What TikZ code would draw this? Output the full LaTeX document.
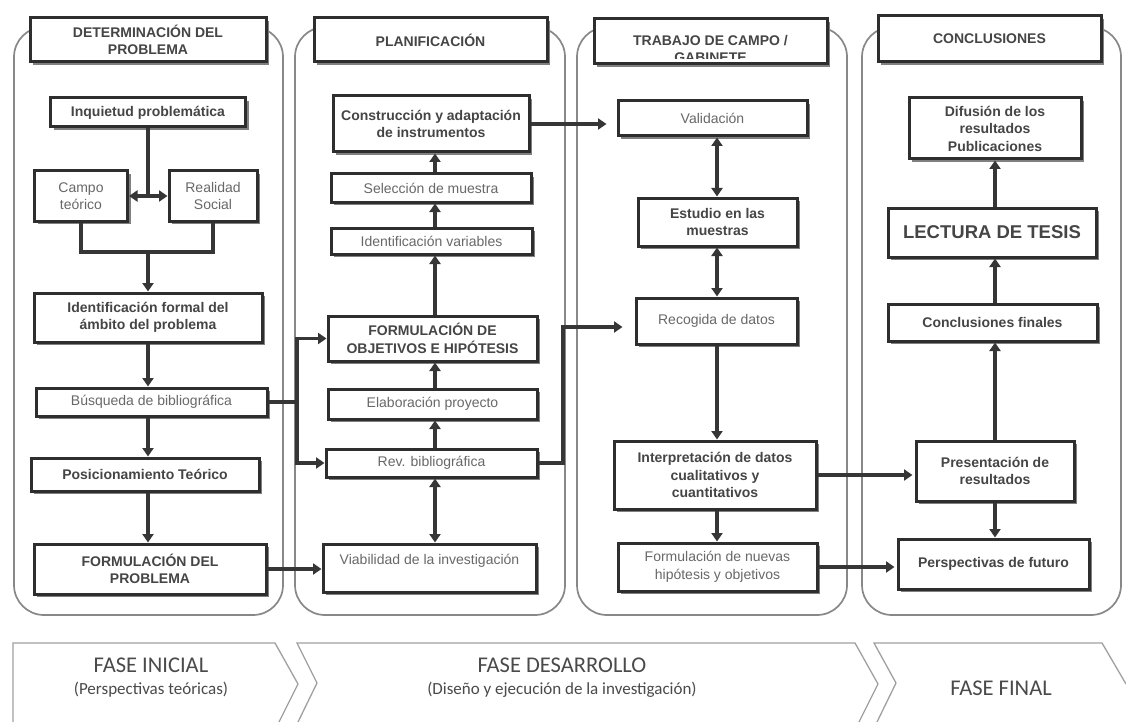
\documentclass[tikz,border=0pt]{standalone}
\usepackage{fontspec}
\setmainfont{Liberation Sans}
\newfontfamily\carlito{Carlito}
\usetikzlibrary{arrows.meta,shadows}
\definecolor{bordc}{HTML}{2e2e2e}
\definecolor{boldtxt}{HTML}{454545}
\definecolor{normtxt}{HTML}{686868}
\definecolor{arrc}{HTML}{363636}
\definecolor{panelc}{HTML}{888888}
\definecolor{bandc}{HTML}{a0a0a0}
\definecolor{bandtxt}{HTML}{4a4a4a}
\begin{document}
\begin{tikzpicture}[x=1pt,y=-1pt,
 bx/.style={draw=bordc, line width=3pt, fill=white, align=center, inner sep=2pt,
   drop shadow={shadow xshift=3.4pt, shadow yshift=-3.4pt, fill=black!50, opacity=1}},
 bb/.style={bx, font=\fontsize{14}{17.5}\selectfont\bfseries, text=boldtxt},
 bn/.style={bx, font=\fontsize{14}{17.5}\selectfont, text=normtxt},
 tipa/.tip={Triangle[width=11pt,length=8.5pt]},
 ar/.style={draw=arrc, line width=3.8pt, -tipa},
 dar/.style={draw=arrc, line width=3.8pt, tipa-tipa},
 ln/.style={draw=arrc, line width=3.8pt},
 panel/.style={draw=panelc, line width=1.7pt, rounded corners=30pt},
 band/.style={draw=bandc, line width=1.3pt},
 bandt/.style={font=\carlito\fontsize{22.5}{26}\selectfont, text=bandtxt},
 bands/.style={font=\carlito\fontsize{17}{20}\selectfont, text=bandtxt},
]
\useasboundingbox[fill=white] (0,0) rectangle (1126,722);

% panels
\draw[panel] (14,27) rectangle (283,615);
\draw[panel] (295,27) rectangle (565,615);
\draw[panel] (577,27) rectangle (847,615);
\draw[panel] (862,27) rectangle (1121,615);

% headers
\node[bb, minimum width=236pt, minimum height=44pt] (h1) at (148,40) {DETERMINACIÓN DEL\\PROBLEMA};
\node[bb, minimum width=233pt, minimum height=44pt] (h2) at (430.5,40) {PLANIFICACIÓN};
\node[bb, minimum width=233pt, minimum height=45pt] (h3) at (710.5,41.5) {};
\begin{scope}
\clip ([xshift=1.5pt,yshift=-1.5pt]h3.north west) rectangle ([xshift=-1.5pt]h3.east |- 0,58.5);
\node[font=\fontsize{14}{17.5}\selectfont\bfseries, text=boldtxt, align=center] (h3t) at (710.5,49) {TRABAJO DE CAMPO /\\GABINETE};
\end{scope}
\node[bb, minimum width=223pt, minimum height=46pt] (h4) at (989.5,39) {CONCLUSIONES};

% column 1
\node[bb, minimum width=195pt, minimum height=29pt] (inq) at (148,112.5) {Inquietud problemática};
\node[bn, minimum width=93pt, minimum height=50pt] (campo) at (81,196) {Campo\\teórico};
\node[bn, minimum width=88pt, minimum height=50pt] (real) at (213,196) {Realidad\\Social};
\node[bb, minimum width=228pt, minimum height=49pt] (ident) at (148,317.5) {Identificación formal del\\ámbito del problema};
\node[bn, minimum width=231pt, minimum height=28pt] (busq) at (151.5,402) {Búsqueda de bibliográfica};
\node[bb, minimum width=228pt, minimum height=33pt] (posic) at (145,474.5) {Posicionamiento Teórico};
\node[bb, minimum width=232pt, minimum height=50pt] (formp) at (150,569) {FORMULACIÓN DEL\\PROBLEMA};

\coordinate (jn) at (148,252);
\draw[ln] (inq.south) -- (inq.south |- campo.east);
\draw[dar] (campo.east) -- (real.west);
\draw[ln] (campo.south) |- (jn) -| (real.south);
\draw[ar] (jn) -- (jn |- ident.north);
\draw[ar] (ident.south) -- (ident.south |- busq.north);
\draw[ar] (ident.south |- busq.south) -- (ident.south |- posic.north);
\draw[ar] (ident.south |- posic.south) -- (ident.south |- formp.north);

% column 2
\node[bb, minimum width=196pt, minimum height=56pt] (constr) at (431,124) {Construcción y adaptación\\de instrumentos};
\node[bn, minimum width=200pt, minimum height=28pt] (selec) at (431,188) {Selección de muestra};
\node[bn, minimum width=201pt, minimum height=26pt] (identv) at (431.5,241) {Identificación variables};
\node[bb, minimum width=209pt, minimum height=45pt] (formo) at (432.5,338.5) {FORMULACIÓN DE\\OBJETIVOS E HIPÓTESIS};
\node[bn, minimum width=209pt, minimum height=30pt] (elab) at (432.5,404) {Elaboración proyecto};
\node[bn, minimum width=211pt, minimum height=28pt] (rev) at (431.5,463) {Rev. bibliográfica};
\node[bn, minimum width=213pt, minimum height=48pt] (viab) at (429.5,568) {Viabilidad de la investigación\\\mbox{}};

\coordinate (ax2) at (435,300);
\draw[ar] (ax2 |- rev.north) -- (ax2 |- elab.south);
\draw[ar] (ax2 |- elab.north) -- (ax2 |- formo.south);
\draw[ar] (ax2 |- formo.north) -- (ax2 |- identv.south);
\draw[ar] (ax2 |- identv.north) -- (ax2 |- selec.south);
\draw[ar] (ax2 |- selec.north) -- (ax2 |- constr.south);
\draw[dar] (ax2 |- rev.south) -- (ax2 |- viab.north);

% column 1 -> 2
\coordinate (v1) at (297,400);
\draw[ln] (busq.east) -- (busq.east -| v1);
\draw[ar] (busq.east -| v1) |- (formo.west);
\draw[ar] (busq.east -| v1) |- (rev.west);
\draw[ar] (formp.east) -- (formp.east -| viab.west);

% column 3
\node[bn, minimum width=189pt, minimum height=35pt] (valid) at (712.5,118.5) {Validación};
\node[bb, minimum width=159pt, minimum height=48pt] (estud) at (717.5,222) {Estudio en las\\muestras};
\node[bn, minimum width=161pt, minimum height=46pt] (recog) at (716.5,321) {Recogida de datos};
\node[bb, minimum width=202pt, minimum height=68pt] (interp) at (715,475) {Interpretación de datos\\cualitativos y\\cuantitativos};
\node[bn, minimum width=199pt, minimum height=48pt] (formn) at (717.5,567) {Formulación de nuevas\\hipótesis y objetivos};

\coordinate (ax3) at (717,300);
\draw[dar] (ax3 |- valid.south) -- (ax3 |- estud.north);
\draw[dar] (ax3 |- estud.south) -- (ax3 |- recog.north);
\draw[ar] (ax3 |- recog.south) -- (ax3 |- interp.north);
\draw[ar] (ax3 |- interp.south) -- (ax3 |- formn.north);

% column 2 -> 3
\coordinate (v2) at (563,400);
\coordinate (rg) at ([yshift=-6pt]recog.west);
\draw[ar, shorten >=12pt] (rev.east) -- (rev.east -| v2) -- (v2 |- rg) -- (rg);
\draw[ar, shorten >=10pt] (constr.east) -- (constr.east -| valid.west);

% column 4
\node[bb, minimum width=172pt, minimum height=61pt] (difus) at (995,128.5) {Difusión de los\\resultados\\Publicaciones};
\node[bb, minimum width=208pt, minimum height=49pt, font=\fontsize{18.5}{22}\selectfont\bfseries] (lect) at (992,232.5) {LECTURA DE TESIS};
\node[bb, minimum width=209pt, minimum height=37pt] (concf) at (992.5,322.5) {Conclusiones finales};
\node[bb, minimum width=158pt, minimum height=60pt] (pres) at (995,471) {Presentación de\\resultados};
\node[bb, minimum width=191pt, minimum height=50pt] (persp) at (993.5,564) {Perspectivas de futuro};

\coordinate (ax4) at (995,300);
\draw[ar] (ax4 |- pres.north) -- (ax4 |- concf.south);
\draw[ar] (ax4 |- concf.north) -- (ax4 |- lect.south);
\draw[ar] (ax4 |- lect.north) -- (ax4 |- difus.south);
\draw[ar] (ax4 |- pres.south) -- (ax4 |- persp.north);

% column 3 -> 4
\draw[ar, shorten >=2pt] (interp.east) -- (interp.east -| pres.west);
\draw[ar, shorten >=2pt] (formn.east) -- (formn.east -| persp.west);

% bottom band
\draw[band] (13,722) -- (13,643) -- (275,643) -- (298,684) -- (279,722);
\draw[band] (298,722) -- (317,683) -- (297,643) -- (855,643) -- (878,684) -- (859,722);
\draw[band] (877,722) -- (896,683) -- (874,643) -- (1102,643) -- (1126,684);
\node[bandt] (f1) at (151,665) {FASE INICIAL};
\node[bands] (f1s) at (151,690) {(Perspectivas teóricas)};
\node[bandt] (f2) at (562,665) {FASE DESARROLLO};
\node[bands] (f2s) at (562,690) {(Diseño y ejecución de la investigación)};
\node[bandt] (f3) at (1001,688) {FASE FINAL};
\end{tikzpicture}
\end{document}
